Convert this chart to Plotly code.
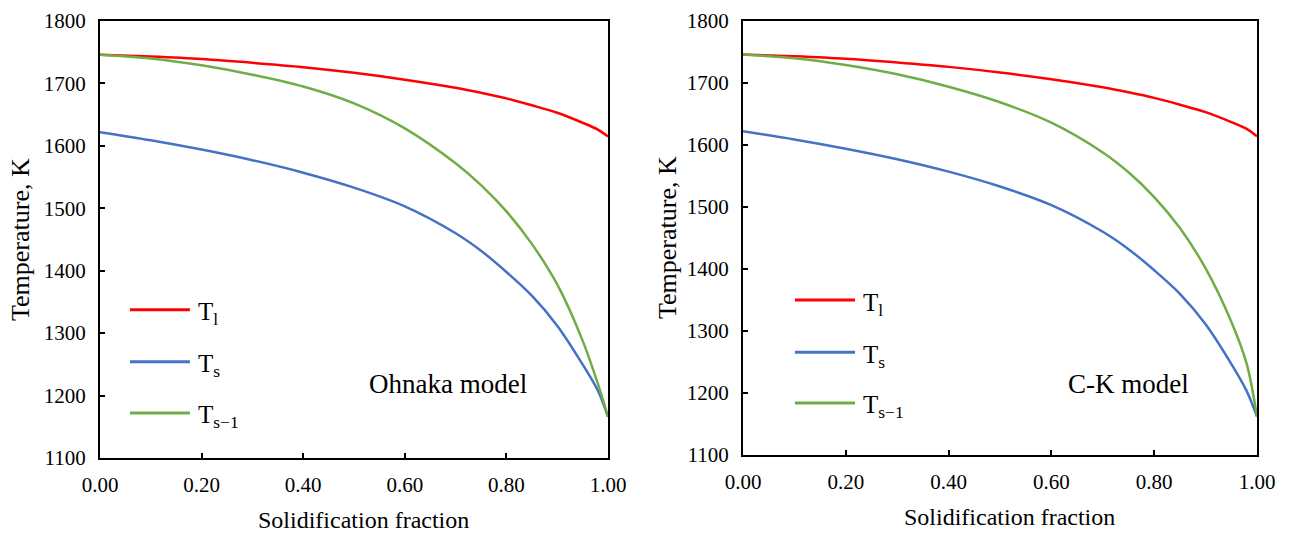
import plotly.graph_objects as go

# ---- data ----
frac = [0.0, 0.1, 0.2, 0.3, 0.4, 0.5, 0.6, 0.7, 0.75, 0.8, 0.85, 0.9, 0.95, 0.98, 1.0]

# Ohnaka model
oh_Tl = [1746, 1743, 1739, 1733, 1726, 1717, 1706, 1693, 1685, 1676, 1665, 1653, 1637, 1626, 1615]
oh_Ts = [1622, 1609, 1594, 1577, 1557, 1533, 1503, 1460, 1432, 1398, 1360, 1312, 1250, 1208, 1166]
oh_Ts1 = [1746, 1740, 1729, 1714, 1695, 1668, 1628, 1572, 1537, 1495, 1443, 1378, 1288, 1219, 1166]

# C-K model
ck_Tl = [1746, 1743, 1739, 1733, 1726, 1717, 1706, 1693, 1685, 1676, 1665, 1653, 1637, 1626, 1614]
ck_Ts = [1622, 1609, 1594, 1577, 1557, 1533, 1503, 1460, 1432, 1398, 1360, 1311, 1247, 1203, 1162]
ck_Ts1 = [1746, 1740, 1729, 1714, 1694, 1669, 1636, 1588, 1556, 1516, 1466, 1401, 1315, 1247, 1162]

series_names = ["T<sub>l</sub>", "T<sub>s</sub>", "T<sub>s\u22121</sub>"]
colors = ["#FF0000", "#4472C4", "#70AD47"]
model_labels = ["Ohnaka model", "C-K model"]
x_title = "Solidification fraction"
y_title = "Temperature, K"

FONT = "Times New Roman"

fig = go.Figure()

panels = [
    (oh_Tl, oh_Ts, oh_Ts1, "x", "y"),
    (ck_Tl, ck_Ts, ck_Ts1, "x2", "y2"),
]
for tl, ts, ts1, xa, ya in panels:
    for vals, c in zip([tl, ts, ts1], colors):
        fig.add_trace(go.Scatter(x=frac, y=vals, mode="lines", xaxis=xa, yaxis=ya,
                                 line=dict(color=c, width=2.5, shape="spline", smoothing=0.9),
                                 showlegend=False, hoverinfo="skip"))

axis_common = dict(showline=True, linecolor="black", linewidth=2, mirror=True,
                   showgrid=False, zeroline=False, automargin=False,
                   ticks="inside", ticklen=5, tickwidth=2, tickcolor="black",
                   tickfont=dict(family=FONT, size=21, color="black"))

fig.update_layout(
    width=1292, height=533,
    margin=dict(l=0, r=0, t=0, b=0, autoexpand=False),
    paper_bgcolor="white", plot_bgcolor="white",
    font=dict(family=FONT, color="black"),
    xaxis=dict(domain=[100/1292, 608/1292], range=[0, 1], dtick=0.2, tickformat=".2f",
               anchor="y", ticklabelstandoff=7, **axis_common),
    yaxis=dict(domain=[(533-458)/533, (533-21)/533], range=[1100, 1800], dtick=100,
               anchor="x", ticklabelstandoff=8, **axis_common),
    xaxis2=dict(domain=[743/1292, 1257/1292], range=[0, 1], dtick=0.2, tickformat=".2f",
                anchor="y2", ticklabelstandoff=7, **axis_common),
    yaxis2=dict(domain=[(533-455)/533, (533-21)/533], range=[1100, 1800], dtick=100,
                anchor="x2", ticklabelstandoff=8, **axis_common),
)

# axis titles
for cx, cy in [(364, 520), (1009, 517)]:
    fig.add_annotation(xref="paper", yref="paper", x=cx/1292, y=1-cy/533, text=x_title,
                       showarrow=False, xanchor="center", yanchor="middle",
                       font=dict(family=FONT, size=24, color="black"))
for cx, cy in [(20, 240), (668, 238)]:
    fig.add_annotation(xref="paper", yref="paper", x=cx/1292, y=1-cy/533, text=y_title,
                       showarrow=False, xanchor="center", yanchor="middle", textangle=-90,
                       font=dict(family=FONT, size=26, color="black"))

# in-plot legends
legend_pos = [
    ("x domain", "y domain", 0.059, 0.177, [0.339, 0.220, 0.103]),
    ("x2 domain", "y2 domain", 0.101, 0.218, [0.357, 0.237, 0.120]),
]
for (xr, yr, x0, x1, ys) in legend_pos:
    for name, c, yy in zip(series_names, colors, ys):
        fig.add_shape(type="line", xref=xr, yref=yr, x0=x0, x1=x1, y0=yy, y1=yy,
                      line=dict(color=c, width=3))
        fig.add_annotation(xref=xr, yref=yr, x=x1 + 0.012, y=yy, text=name, showarrow=False,
                           xanchor="left", yanchor="middle", yshift=-4,
                           font=dict(family=FONT, size=25, color="black"))

fig.add_annotation(xref="x domain", yref="y domain", x=(448-100)/508, y=(458-384)/437,
                   text=model_labels[0], showarrow=False, xanchor="center", yanchor="middle",
                   font=dict(family=FONT, size=27, color="black"))
fig.add_annotation(xref="x2 domain", yref="y2 domain", x=(1128-743)/514, y=(455-384)/434,
                   text=model_labels[1], showarrow=False, xanchor="center", yanchor="middle",
                   font=dict(family=FONT, size=27, color="black"))

fig.write_html("out.html")
